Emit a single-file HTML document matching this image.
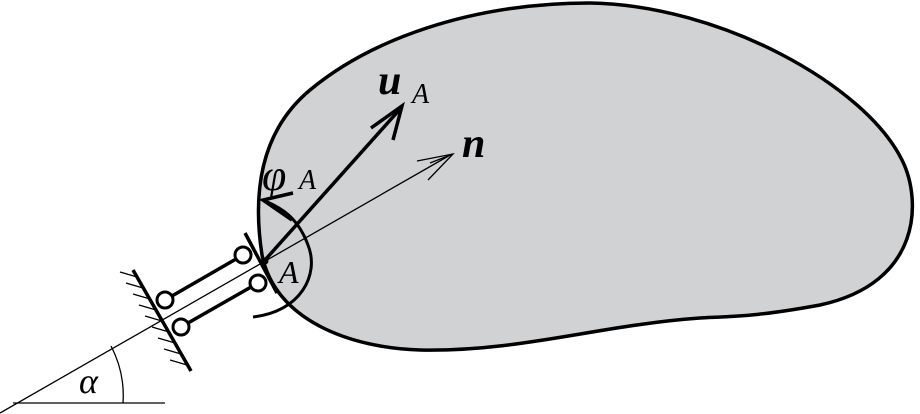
<!DOCTYPE html>
<html><head><style>body{margin:0;background:#fff}svg{display:block}</style></head><body>
<svg width="920" height="414" viewBox="0 0 920 414" xmlns="http://www.w3.org/2000/svg">
<path d="M262,255 C252,190 262,130 310,90 C370,40 470,3 590,3 C720,5 865,85 902,160 C922,200 922,283 820,305 C760,316 740,316 700,318 C600,325 520,352 420,350 C350,348 275,320 262,255 Z" fill="#d1d2d4" stroke="#000" stroke-width="3.5"/>
<line x1="13" y1="403" x2="165" y2="403" stroke="#000" stroke-width="1.3"/>
<line x1="0" y1="413" x2="452" y2="154" stroke="#000" stroke-width="1.3"/>
<path d="M111,346 A107,107 0 0 1 123,403" fill="none" stroke="#000" stroke-width="1.3"/>
<path d="M417,161 L453,154 L428,180 M430,163 L453,154" fill="none" stroke="#000" stroke-width="1.3"/>
<line x1="265" y1="260" x2="401" y2="108" stroke="#000" stroke-width="3.5"/>
<path d="M371,128 L402,106 L393,140" fill="none" stroke="#000" stroke-width="3.5"/>
<path d="M253,317 C300,312 320,275 308,245 C298,218 282,208 265,201" fill="none" stroke="#000" stroke-width="3"/>
<path d="M293,193 L263,200 L292,220" fill="none" stroke="#000" stroke-width="3.5"/>
<line x1="133" y1="270" x2="191" y2="371" stroke="#000" stroke-width="3.5"/>
<g stroke="#000" stroke-width="1.3">
<line x1="137" y1="277" x2="120" y2="272"/><line x1="143" y1="288" x2="126" y2="283"/>
<line x1="150" y1="299" x2="133" y2="294"/><line x1="156" y1="310" x2="139" y2="305"/>
<line x1="162" y1="321" x2="145" y2="316"/><line x1="169" y1="332" x2="152" y2="327"/>
<line x1="175" y1="343" x2="158" y2="338"/><line x1="181" y1="354" x2="164" y2="349"/>
<line x1="187" y1="365" x2="170" y2="360"/>
</g>
<line x1="245" y1="233" x2="277" y2="293" stroke="#000" stroke-width="3.5"/>
<line x1="165" y1="300" x2="243" y2="255" stroke="#000" stroke-width="3.5"/>
<line x1="181" y1="327" x2="258" y2="283" stroke="#000" stroke-width="3.5"/>
<g fill="#fff" stroke="#000" stroke-width="3">
<circle cx="165" cy="300" r="8"/><circle cx="181" cy="327" r="8"/>
<circle cx="243" cy="255" r="8"/><circle cx="258" cy="283" r="8"/>
</g>
<circle cx="265" cy="261" r="3.5" fill="#000"/>
<g font-family="Liberation Serif, serif" font-style="italic" fill="#000">
<text x="378" y="94" font-size="42" font-weight="bold">u</text>
<text x="412" y="103" font-size="28">A</text>
<text x="462" y="157" font-size="42" font-weight="bold">n</text>
<text x="262" y="190" font-size="44">φ</text>
<text x="299" y="189" font-size="28">A</text>
<text x="279" y="283" font-size="32">A</text>
<text x="79" y="393" font-size="36">α</text>
</g>
</svg>
</body></html>
